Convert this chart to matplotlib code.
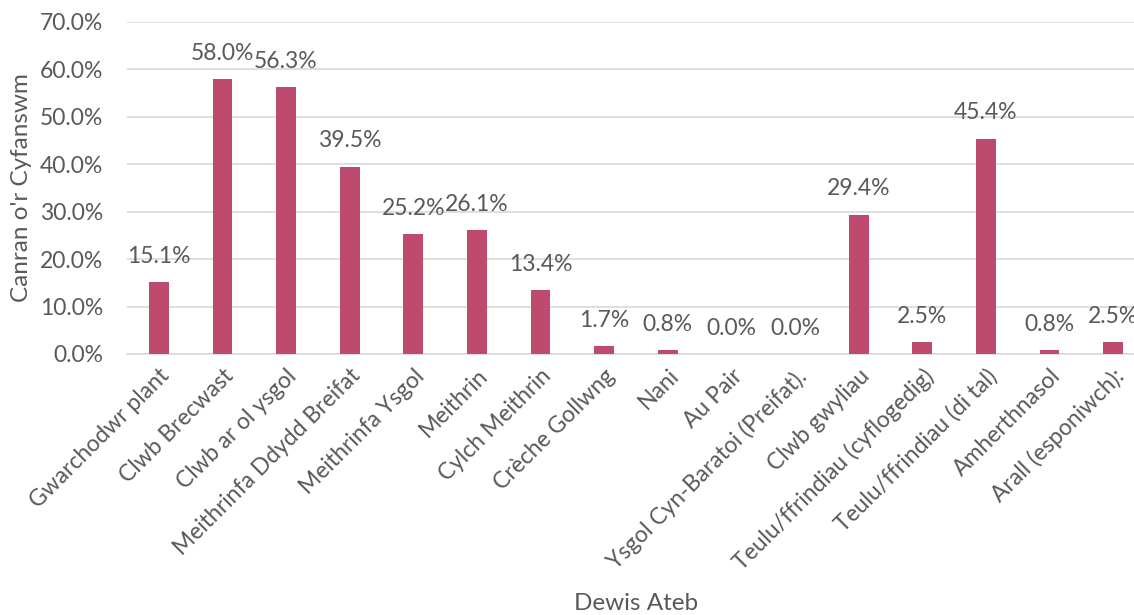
import matplotlib
matplotlib.use("Agg")
import matplotlib.pyplot as plt
from matplotlib.ticker import FuncFormatter, MultipleLocator

categories = [
    "Gwarchodwr plant", "Clwb Brecwast", "Clwb ar ol ysgol", "Meithrinfa Ddydd Breifat",
    "Meithrinfa Ysgol", "Meithrin", "Cylch Meithrin", "Crèche Gollwng", "Nani", "Au Pair",
    "Ysgol Cyn-Baratoi (Preifat).", "Clwb gwyliau", "Teulu/ffrindiau (cyflogedig)",
    "Teulu/ffrindiau (di tal)", "Amherthnasol", "Arall (esponiwch):",
]
values = [15.1, 58.0, 56.3, 39.5, 25.2, 26.1, 13.4, 1.7, 0.8, 0.0, 0.0, 29.4, 2.5, 45.4, 0.8, 2.5]

plt.rcParams['font.family'] = ['Lato', 'DejaVu Sans']
txt = '#595959'
bar_color = '#BE4B6E'
fs = 16.5

fig = plt.figure(figsize=(11.34, 6.15), dpi=100)
ax = fig.add_axes([127/1134, 1-354/615, 1018/1134, (354-22)/615])

x = list(range(len(categories)))
ax.bar(x, values, width=0.31, color=bar_color, zorder=3)
for xi, v in zip(x, values):
    ax.annotate(f"{v:.1f}%", (xi, v), xytext=(0, 11), textcoords='offset points',
                ha='center', va='bottom', fontsize=fs, color=txt)

ax.set_ylim(0, 70)
ax.set_xlim(-0.5, len(categories) - 0.5)
ax.yaxis.set_major_locator(MultipleLocator(10))
ax.yaxis.set_major_formatter(FuncFormatter(lambda v, p: f"{v:.1f}%"))
ax.grid(axis='y', color='#D9D9D9', linewidth=1.2, zorder=0)
for s in ['top', 'right', 'left']:
    ax.spines[s].set_visible(False)
ax.spines['bottom'].set_color('#D9D9D9')
ax.spines['bottom'].set_linewidth(1.2)
ax.tick_params(axis='both', length=0, colors=txt, labelsize=fs)
ax.tick_params(axis='y', pad=17)
ax.set_xticks(x)
ax.set_xticklabels(categories, rotation=45, ha='right', rotation_mode='anchor', fontsize=fs, color=txt)
ax.tick_params(axis='x', pad=8)
ax.set_ylabel("Canran o'r Cyfanswm", fontsize=17.5, color=txt, labelpad=6)
fig.text(636/1134, 1-603/615, "Dewis Ateb", ha='center', va='center', fontsize=17.5, color=txt)

fig.savefig("out.png", dpi=100)
